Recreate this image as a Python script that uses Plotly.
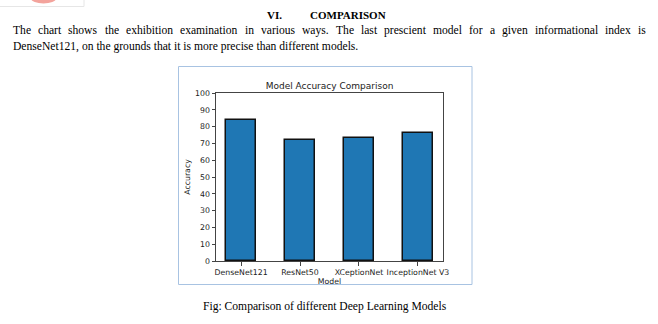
import plotly.graph_objects as go

# ---- data ----
models = ["DenseNet121", "ResNet50", "XCeptionNet", "InceptionNet V3"]
accuracy = [84, 72, 73, 76]
y_ticks = list(range(0, 101, 10))

chart_title = "Model Accuracy Comparison"
x_title = "Model"
y_title = "Accuracy"

heading_num = "VI."
heading_txt = "COMPARISON"
para_line1 = ("The chart shows the exhibition examination in various ways. "
              "The last prescient model for a given informational index is")
para_line2 = "DenseNet121, on the grounds that it is more precise than different models."
caption = "Fig: Comparison of different Deep Learning Models"

# ---- page geometry (pixels) ----
W, H = 658, 324
L, R, T, B = 216, 443, 93, 261          # plot area edges


def px(x):
    return (x - L) / (R - L)


def py(y):
    return (B - y) / (B - T)


# Times-style advance widths (per 1000 em) used to justify a text line
ADV = dict(a=444, b=500, c=444, d=500, e=444, f=333, g=500, h=500, i=278,
           j=278, k=500, l=278, m=778, n=500, o=500, p=500, q=500, r=333,
           s=389, t=278, u=500, v=500, w=722, x=500, y=500, z=444)
ADV.update({"T": 611, ".": 250, ",": 250, " ": 250})


def word_width(word, size):
    return sum(ADV.get(ch, 500) for ch in word) * size / 1000.0


SERIF = "Liberation Serif"
SANS = "DejaVu Sans"
TEXT_SIZE = 11.6
INK = "#222222"

fig = go.Figure()

fig.add_trace(go.Bar(
    x=models,
    y=accuracy,
    width=0.5,
    marker=dict(color="#1f77b4", line=dict(color="#111111", width=1.5)),
    showlegend=False,
))

annotations = []

# section heading
annotations.append(dict(text="<b>" + heading_num + "</b>", x=px(265), y=py(15),
                        xanchor="left", yanchor="middle",
                        font=dict(family=SERIF, size=11, color="#000")))
annotations.append(dict(text="<b>" + heading_txt + "</b>", x=px(308), y=py(15),
                        xanchor="left", yanchor="middle",
                        font=dict(family=SERIF, size=11, color="#000")))

# first paragraph line, justified between the page margins
words = para_line1.split()
left_edge, right_edge = 12, 645
widths = [word_width(wd, TEXT_SIZE) for wd in words]
gap = (right_edge - left_edge - sum(widths)) / (len(words) - 1)
xpos = left_edge
for wd, ww in zip(words, widths):
    annotations.append(dict(text=wd, x=px(xpos - 1), y=py(30),
                            xanchor="left", yanchor="middle",
                            font=dict(family=SERIF, size=TEXT_SIZE, color="#000")))
    xpos += ww + gap

# second paragraph line, ragged
annotations.append(dict(text=para_line2, x=px(11), y=py(46),
                        xanchor="left", yanchor="middle",
                        font=dict(family=SERIF, size=TEXT_SIZE, color="#000")))

# figure caption
annotations.append(dict(text=caption, x=px(325), y=py(306),
                        xanchor="center", yanchor="middle",
                        font=dict(family=SERIF, size=TEXT_SIZE, color="#000")))

for a in annotations:
    a.update(xref="paper", yref="paper", showarrow=False)

shapes = [
    # light-blue border around the embedded chart image
    dict(type="rect", xref="paper", yref="paper",
         x0=px(178.5), x1=px(472), y0=py(284.5), y1=py(66.5),
         line=dict(color="#a8c3e2", width=1), fillcolor="rgba(0,0,0,0)"),
    # logo fragment at the page corner
    dict(type="circle", xref="paper", yref="paper",
         x0=px(31), x1=px(56), y0=py(3.5), y1=py(-6),
         line=dict(width=0), fillcolor="#f3a39c"),
    dict(type="line", xref="paper", yref="paper",
         x0=px(0), x1=px(84), y0=py(6.5), y1=py(6.5),
         line=dict(color="#e6e6e6", width=1)),
    dict(type="line", xref="paper", yref="paper",
         x0=px(84), x1=px(84), y0=py(0), y1=py(6.5),
         line=dict(color="#e6e6e6", width=1)),
]

fig.update_layout(
    width=W, height=H,
    margin=dict(l=L, r=W - R, t=T, b=H - B, pad=0),
    paper_bgcolor="white",
    plot_bgcolor="white",
    bargap=0,
    title=dict(text=chart_title, x=0.5 * (L + R) / W, xanchor="center",
               y=1 - 86 / H, yref="container", yanchor="middle",
               font=dict(family=SANS, size=9, color=INK)),
    annotations=annotations,
    shapes=shapes,
)

fig.update_xaxes(
    type="category",
    range=[-0.425, 3.425],
    showgrid=False, zeroline=False,
    showline=True, linecolor="#444", linewidth=1, mirror=True,
    ticks="outside", ticklen=3.5, tickcolor="#444", tickwidth=0.8,
    tickangle=0,
    tickfont=dict(family=SANS, size=7.8, color=INK),
    title=dict(text=x_title, standoff=1, font=dict(family=SANS, size=7.8, color=INK)),
)

fig.update_yaxes(
    range=[0, 100],
    tickvals=y_ticks,
    showgrid=False, zeroline=False,
    showline=True, linecolor="#444", linewidth=1, mirror=True,
    ticks="outside", ticklen=3.5, tickcolor="#444", tickwidth=0.8,
    tickfont=dict(family=SANS, size=7.8, color=INK),
    title=dict(text=y_title, standoff=3, font=dict(family=SANS, size=7.8, color=INK)),
)

fig.write_html("out.html")
